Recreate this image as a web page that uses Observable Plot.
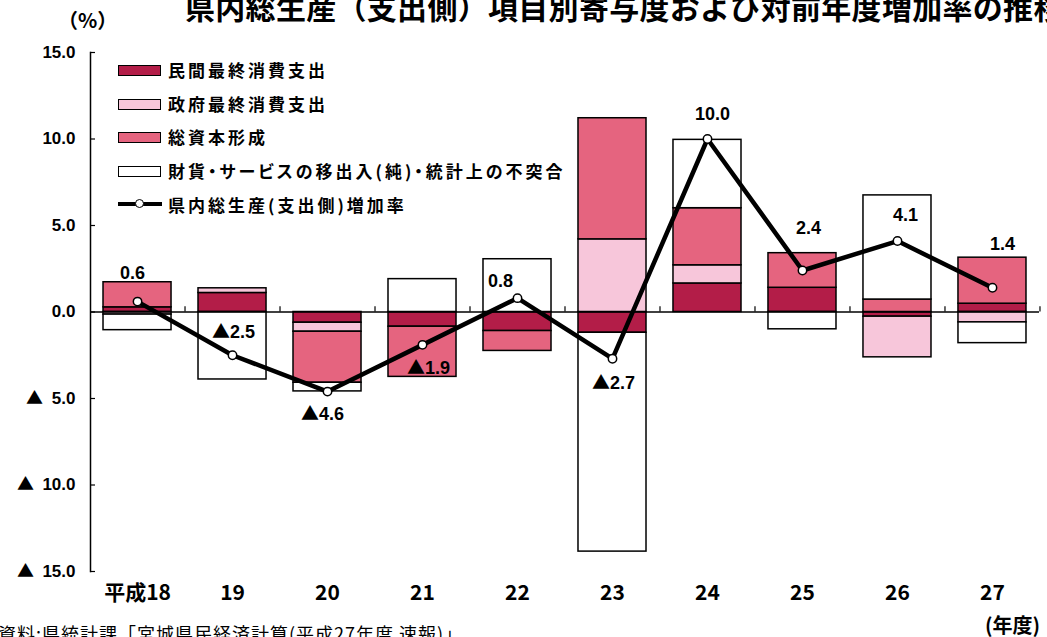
<!DOCTYPE html>
<html>
<head>
<meta charset="utf-8">
<script src="https://cdn.jsdelivr.net/npm/d3@7"></script>
<script src="https://cdn.jsdelivr.net/npm/@observablehq/plot@0.6"></script>
<style>
  @font-face { font-family: "Tri"; src: local("Noto Sans CJK JP Bold"), local("NotoSansCJKjp-Bold"), local("DejaVu Sans Bold"), local("DejaVuSans-Bold"); unicode-range: U+25B2; }
  body { margin: 0; background: #fff; }
  #wrap { position: relative; width: 1047px; height: 637px; overflow: hidden; background: #fff;
          font-family: "Liberation Sans", "Noto Sans CJK JP", sans-serif; color: #000; }
  #chart { position: absolute; left: 0; top: 0; }
  #title { position: absolute; left: 185px; top: -16px; font-size: 30px; font-weight: bold; letter-spacing: 0.3px; white-space: nowrap; font-family: "Noto Sans CJK JP", sans-serif; }
  #unit { position: absolute; left: 58px; top: 5px; font-size: 20px; font-weight: bold; font-family: "Noto Sans CJK JP", sans-serif; }
  #nendo { position: absolute; left: 985px; top: 610px; font-size: 20px; font-weight: bold; white-space: nowrap; font-family: "Noto Sans CJK JP", sans-serif; }
  #caption { position: absolute; left: -2px; top: 620px; font-size: 18px; letter-spacing: 1px; white-space: nowrap; font-family: "Noto Sans CJK JP", sans-serif; }
  #legend { position: absolute; left: 118px; top: 61px; }
  .item { position: relative; height: 33.7px; display: flex; align-items: flex-start; }
  .sw { width: 41px; height: 9px; border: 1.5px solid #000; margin-top: 4px; margin-right: 7px; flex: none; }
  .ln { position: relative; width: 44px; height: 18px; margin-right: 6px; flex: none; }
  .ln .bar { position: absolute; left: 0; top: 6px; width: 44px; height: 4px; background: #000; }
  .ln .pt { position: absolute; left: 17px; top: 3px; width: 7px; height: 7px; border: 1.5px solid #000; border-radius: 50%; background: #fff; }
  .lab { font-size: 17px; font-weight: bold; letter-spacing: 3px; line-height: 18px; white-space: nowrap;
         font-family: "Noto Sans CJK JP", sans-serif; font-feature-settings: "palt"; }
</style>
</head>
<body>
<div id="wrap">
  <div id="chart"></div>
  <div id="title">県内総生産（支出側）項目別寄与度および対前年度増加率の推移</div>
  <div id="unit">（%）</div>
  <div id="legend"></div>
  <div id="nendo">(年度)</div>
  <div id="caption">資料:県統計課「宮城県民経済計算(平成27年度 速報)」</div>
</div>
<script>
// ---- data ----
const years = ["平成18", "19", "20", "21", "22", "23", "24", "25", "26", "27"];
const seriesNames = ["民間最終消費支出", "政府最終消費支出", "総資本形成", "財貨・サービスの移出入(純)・統計上の不突合"];
const privateConsumption = [0.27, 1.10, -0.62, -0.85, -1.10, -1.20, 1.65, 1.40, -0.27, 0.48];
const governmentConsumption = [-0.15, 0.27, -0.52, 0.00, 0.00, 4.20, 1.05, 0.00, -2.35, -0.60];
const capitalFormation = [1.45, 0.00, -2.95, -2.90, -1.15, 7.00, 3.30, 2.00, 0.72, 2.66];
const netExportsDiscrepancy = [-0.90, -3.90, -0.50, 1.90, 3.05, -12.65, 3.95, -1.00, 6.02, -1.20];
const growthName = "県内総生産(支出側)増加率";
const growthRate = [0.6, -2.5, -4.6, -1.9, 0.8, -2.7, 10.0, 2.4, 4.1, 1.4];
const yTicks = [-15, -10, -5, 0, 5, 10, 15];

// ---- style / layout ----
const colors = ["#B31D48", "#F7C6DA", "#E5647F", "#FFFFFF"];
// pixel offsets of the growth-rate annotations from their points
const labelDx = [-5, 1, -5, 6, -17, 1, 5, 6, 8, 10];
const labelDy = [-28, -23, 23, 23, -17, 25, -25, -42, -26, -44];

const W = 1047, H = 610, mL = 90, mR = 8, mT = 52, mB = 39;
const pIn = 0.284, pOut = 0.137;
const step = (W - mL - mR) / (years.length - pIn + 2 * pOut);
const numFont = '"Tri", "Liberation Sans", "Noto Sans CJK JP", sans-serif';
const narrowFont = '"Liberation Sans Narrow", "Noto Sans CJK JP", "Liberation Sans", sans-serif';

const fmt = v => v < 0 ? "▲" + Math.abs(v).toFixed(1) : v.toFixed(1);
const fmtAxis = v => v < 0 ? "▲\u2002" + Math.abs(v).toFixed(1) : v.toFixed(1);

const seriesValues = [privateConsumption, governmentConsumption, capitalFormation, netExportsDiscrepancy];
const rows = [];
seriesNames.forEach((s, si) => years.forEach((y, i) => rows.push({year: y, series: s, value: seriesValues[si][i]})));
const growth = years.map((y, i) => ({year: y, value: growthRate[i]}));

const chart = Plot.plot({
  width: W, height: H,
  marginLeft: mL, marginRight: mR, marginTop: mT, marginBottom: mB,
  style: {fontFamily: numFont, background: "white", color: "black"},
  x: {type: "band", domain: years, paddingInner: pIn, paddingOuter: pOut, round: false},
  y: {domain: [-15, 15]},
  color: {domain: seriesNames, range: colors},
  marks: [
    Plot.barY(rows, {x: "year", y: "value", fill: "series", stroke: "black", strokeWidth: 1.5}),
    Plot.ruleY([0], {stroke: "black", strokeWidth: 1.5}),
    Plot.ruleX(years, {x: d => d, y1: 0, y2: 0.3, dx: step / 2, stroke: "black", strokeWidth: 1.2}),
    Plot.frame({anchor: "left", stroke: "black", strokeWidth: 1.5}),
    Plot.axisY({ticks: yTicks, tickFormat: fmtAxis, tickSize: -5, tickPadding: 20, fontSize: 17, fontWeight: "bold", label: null, strokeWidth: 1.2}),
    Plot.axisX({tickSize: 0, tickPadding: 14, fontSize: 21, fontWeight: "bold", label: null, fontFamily: narrowFont}),
    Plot.line(growth, {x: "year", y: "value", stroke: "black", strokeWidth: 4.5}),
    Plot.dot(growth, {x: "year", y: "value", r: 4.2, fill: "white", stroke: "black", strokeWidth: 1.5}),
    ...growth.map((d, i) => Plot.text([d], {x: "year", y: "value", text: g => fmt(g.value), dx: labelDx[i], dy: labelDy[i],
      fontSize: 18, fontWeight: "bold", fill: "black", lineAnchor: "middle"}))
  ]
});
document.getElementById("chart").appendChild(chart);

// legend
const legend = document.getElementById("legend");
seriesNames.forEach((s, i) => {
  const it = document.createElement("div");
  it.className = "item";
  it.innerHTML = `<div class="sw" style="background:${colors[i]}"></div><div class="lab">${s}</div>`;
  legend.appendChild(it);
});
const li = document.createElement("div");
li.className = "item";
li.innerHTML = `<div class="ln"><div class="bar"></div><div class="pt"></div></div><div class="lab">${growthName}</div>`;
legend.appendChild(li);
</script>
</body>
</html>
